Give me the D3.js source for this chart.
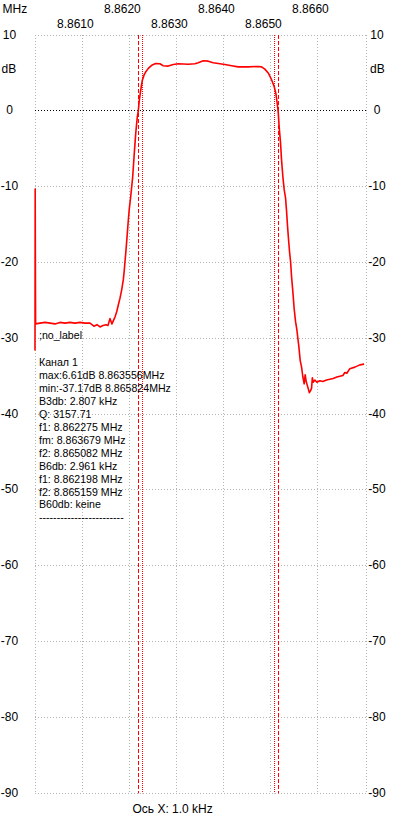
<!DOCTYPE html>
<html><head><meta charset="utf-8">
<script src="https://cdn.jsdelivr.net/npm/d3@7/dist/d3.min.js"></script>
<style>
html,body{margin:0;padding:0;background:#fff;}
svg{display:block;font-family:"Liberation Sans",Arial,sans-serif;}
</style></head>
<body>
<svg id="chart" width="400" height="828"></svg>
<script>
// ---- data ----
const freqMHz = [8.860000,8.860004,8.860009,8.860013,8.860106,8.860213,8.860319,8.860425,8.860531,8.860638,8.860744,8.860850,8.860957,8.861063,8.861169,8.861254,8.861318,8.861382,8.861446,8.861509,8.861552,8.861594,8.861637,8.861665,8.861701,8.861738,8.861772,8.861808,8.861844,8.861878,8.861899,8.861914,8.861935,8.861963,8.861985,8.862006,8.862036,8.862057,8.862078,8.862106,8.862142,8.862176,8.862197,8.862219,8.862248,8.862282,8.862318,8.862361,8.862410,8.862482,8.862567,8.862657,8.862727,8.862834,8.862940,8.863046,8.863259,8.863401,8.863471,8.863578,8.863684,8.863790,8.863933,8.864039,8.864182,8.864322,8.864534,8.864747,8.864819,8.864889,8.864960,8.865032,8.865087,8.865123,8.865151,8.865172,8.865193,8.865223,8.865244,8.865272,8.865300,8.865329,8.865351,8.865372,8.865393,8.865414,8.865436,8.865457,8.865485,8.865512,8.865542,8.865570,8.865591,8.865612,8.865640,8.865670,8.865697,8.865725,8.865746,8.865768,8.865810,8.865836,8.865861,8.865882,8.865899,8.865916,8.865953,8.865995,8.866059,8.866122,8.866201,8.866271,8.866341,8.866420,8.866484,8.866548,8.866590,8.866633,8.866696,8.866803,8.866909,8.867000];
const levelDb = [-31.6,-10.3,-22.0,-28.1,-28.0,-27.9,-28.0,-28.1,-27.9,-28.0,-27.9,-28.0,-27.9,-28.0,-28.0,-28.4,-28.2,-28.5,-28.3,-28.2,-28.3,-27.4,-28.1,-27.7,-27.2,-26.5,-25.6,-24.7,-23.6,-22.3,-21.0,-19.9,-18.4,-16.2,-14.4,-12.9,-11.3,-10.0,-8.7,-6.1,-3.0,-0.8,0.0,1.4,2.7,4.0,4.7,5.2,5.6,6.0,6.25,6.2,5.95,5.9,6.1,6.2,6.15,6.2,6.35,6.6,6.55,6.35,6.2,6.1,5.95,5.8,5.8,5.85,5.8,5.5,5.0,4.1,3.2,2.3,1.0,-0.1,-2.1,-4.3,-6.5,-8.7,-10.4,-11.5,-13.3,-15.3,-17.0,-18.6,-19.9,-21.9,-23.9,-26.1,-27.8,-28.9,-30.0,-31.1,-32.9,-33.8,-35.1,-36.0,-34.8,-35.7,-36.6,-37.17,-36.9,-36.6,-35.2,-35.8,-35.5,-35.8,-35.6,-35.7,-35.5,-35.4,-35.3,-35.1,-35.0,-34.9,-34.5,-34.6,-34.0,-33.8,-33.5,-33.4];

const xDomain = [8.8600, 8.86704];
const yDomain = [-90, 10];
const xTicksRow1 = [8.8620, 8.8640, 8.8660];
const xTicksRow2 = [8.8610, 8.8630, 8.8650];
const xGrid = [8.8600, 8.8610, 8.8620, 8.8630, 8.8640, 8.8650, 8.8660, 8.86704];
const yTicks = [10, 0, -10, -20, -30, -40, -50, -60, -70, -80, -90];
const markers6dB = [8.862198, 8.865159];
const markers3dB = [8.862275, 8.865082];
const infoLines = ["Канал 1","max:6.61dB 8.863556MHz","min:-37.17dB 8.865824MHz","B3db: 2.807 kHz","Q: 3157.71","f1: 8.862275 MHz","fm: 8.863679 MHz","f2: 8.865082 MHz","B6db: 2.961 kHz","f1: 8.862198 MHz","f2: 8.865159 MHz","B60db: keine","------------------------"];
const traceLabel = ";no_label";
const xAxisTitle = "Ось X: 1.0 kHz";
const xUnit = "MHz";
const yUnit = "dB";

// ---- chart ----
const svg = d3.select("#chart");
const x = d3.scaleLinear().domain(xDomain).range([35, 366]);
const y = d3.scaleLinear().domain(yDomain).range([793.3, 35]);
const gridColor = "#b4b4b4";

// grid
svg.append("g").selectAll("line").data(xGrid).join("line")
  .attr("x1", d => x(d)).attr("x2", d => x(d))
  .attr("y1", y(10)).attr("y2", y(-90))
  .attr("stroke", gridColor).attr("stroke-width", 1).attr("stroke-dasharray", "1,2")
  .attr("shape-rendering", "crispEdges");
svg.append("g").selectAll("line").data(yTicks).join("line")
  .attr("x1", x(xDomain[0])).attr("x2", x(xDomain[1]))
  .attr("y1", d => y(d)).attr("y2", d => y(d))
  .attr("stroke", d => d === 0 ? "#000" : gridColor)
  .attr("stroke-width", 1).attr("stroke-dasharray", "1,2")
  .attr("shape-rendering", "crispEdges");

// y labels
const fs = 12;
svg.append("g").selectAll("text").data(yTicks).join("text")
  .attr("x", 9.5).attr("y", d => y(d) + 3.5).attr("text-anchor", "middle")
  .attr("font-size", fs).attr("fill", "#000").text(d => d);
svg.append("g").selectAll("text").data(yTicks).join("text")
  .attr("x", 377).attr("y", d => y(d) + 3.5).attr("text-anchor", "middle")
  .attr("font-size", fs).attr("fill", "#000").text(d => d);
svg.append("text").attr("x", 1.5).attr("y", 73).attr("font-size", fs).text(yUnit);
svg.append("text").attr("x", 370).attr("y", 73).attr("font-size", fs).text(yUnit);
svg.append("text").attr("x", 2.5).attr("y", 12.5).attr("font-size", fs).text(xUnit);

// x labels
svg.append("g").selectAll("text").data(xTicksRow1).join("text")
  .attr("x", d => x(d) - 25).attr("y", 12.5).attr("font-size", fs)
  .text(d => d.toFixed(4));
svg.append("g").selectAll("text").data(xTicksRow2).join("text")
  .attr("x", d => x(d) - 25).attr("y", 28.3).attr("font-size", fs)
  .text(d => d.toFixed(4));
svg.append("text").attr("x", 132.5).attr("y", 812.5).attr("font-size", fs).text(xAxisTitle);

// marker lines
svg.append("g").selectAll("line").data(markers6dB).join("line")
  .attr("x1", d => Math.round(x(d)) + 0.5).attr("x2", d => Math.round(x(d)) + 0.5)
  .attr("y1", y(10)).attr("y2", y(-90))
  .attr("stroke", "#ff0000").attr("stroke-width", 1).attr("stroke-dasharray", "4,2");
svg.append("g").selectAll("line").data(markers3dB).join("line")
  .attr("x1", d => Math.round(x(d)) + 0.5).attr("x2", d => Math.round(x(d)) + 0.5)
  .attr("y1", y(10)).attr("y2", y(-90))
  .attr("stroke", "#ff0000").attr("stroke-width", 1).attr("stroke-dasharray", "1,1");

// trace
const pts = freqMHz.map((f, i) => [f, levelDb[i]]);
svg.append("path").datum(pts)
  .attr("d", d3.line().x(d => x(d[0])).y(d => y(d[1])))
  .attr("fill", "none").attr("stroke", "#ff0000").attr("stroke-width", 1.6)
  .attr("stroke-linejoin", "round");

// info text
const fs2 = 10.6;
svg.append("text").attr("x", 39).attr("y", 339.3).attr("font-size", fs2).text(traceLabel);
svg.append("g").selectAll("text").data(infoLines).join("text")
  .attr("x", 39).attr("y", (d, i) => 366 + i * 12.95).attr("font-size", fs2)
  .attr("fill", "#000").text(d => d);
</script>
</body></html>
